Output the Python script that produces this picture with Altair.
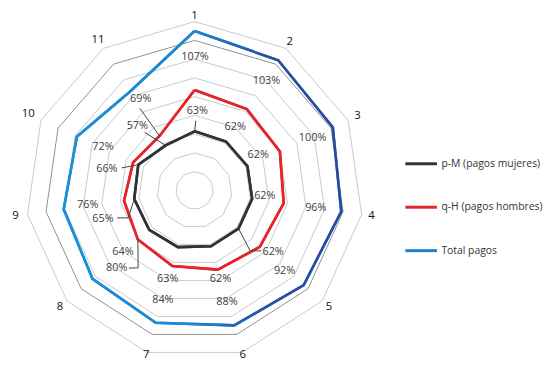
import math
import altair as alt
import pandas as pd

# ---------------- data ----------------
categories = [str(i) for i in range(1, 12)]
pm_values = [63, 62, 62, 62, 62, 62, 63, 64, 65, 66, 57]          # p-M (pagos mujeres), %
qh_values = [107, 103, 100, 96, 92, 88, 84, 80, 76, 72, 69]       # q-H (pagos hombres), %
total_values = [170, 165, 162, 158, 154, 150, 147, 144, 141, 138, 126]  # Total pagos, %
series_names = ["p-M (pagos mujeres)", "q-H (pagos hombres)", "Total pagos"]
ring_levels = [20, 40, 60, 80, 100, 120, 140, 160, 180]

# ---------------- layout (label placement, polar: radius in %, angle in deg) ----------------
pm_label_r = [84.8, 80.5, 77.5, 75.1, 106.3, 98.9, 99.2, 100.6, 102.5, 96.2, 92.1]
pm_label_a = [2.0, 32.6, 61.2, 94.2, 128.0, 163.8, 196.8, 229.4, 252.4, 283.6, 318.5]
qh_label_r = [142.6, 139.3, 137.8, 130.6, 128.5, 124.4, 121.2, 117.1, 114.9, 108.0, 112.7]
qh_label_a = [0.2, 33.4, 65.9, 98.2, 131.7, 163.9, 196.2, 225.1, 262.4, 295.3, 329.4]
cat_label_r = [186.0, 187.5, 191.0, 190.5, 189.5, 182.5, 182.5, 190.0, 193.0, 195.0, 190.5]
# leader lines: (series, axis index, list of polar points near the label)
leaders = [
    ("pm", 0, [(74.2, 1.0)]),
    ("pm", 4, [(95.9, 132.2), (87.5, 137.4)]),
    ("pm", 8, [(87.7, 250.5), (76.6, 247.5)]),
    ("pm", 9, [(81.3, 287.2)]),
    ("pm", 10, [(81.6, 319.3)]),
    ("qh", 7, [(108.5, 220.2), (102.2, 216.1)]),
    ("qh", 10, [(105.3, 326.3)]),
]

N = len(categories)


def axis_angle(i):
    return i * 360.0 / N


def polar(r, deg):
    a = math.radians(deg)
    return r * math.sin(a), r * math.cos(a)


# rings
ring_rows = []
for lv in ring_levels:
    for k in range(N + 1):
        x, y = polar(lv, axis_angle(k % N))
        ring_rows.append({"level": lv, "idx": k, "x": x, "y": y,
                          "col": "#8f8f8f" if lv == 160 else "#c9c9c9"})
ring_df = pd.DataFrame(ring_rows)

# series
ser_rows = []
for name, vals in zip(series_names, [pm_values, qh_values, total_values]):
    for k in range(N + 1):
        v = vals[k % N]
        x, y = polar(v, axis_angle(k % N))
        ser_rows.append({"series": name, "idx": k, "x": x, "y": y})
ser_df = pd.DataFrame(ser_rows)

# data labels
lab_rows = []
for i in range(N):
    x, y = polar(pm_label_r[i], pm_label_a[i])
    lab_rows.append({"text": f"{pm_values[i]}%", "x": x, "y": y})
    x, y = polar(qh_label_r[i], qh_label_a[i])
    lab_rows.append({"text": f"{qh_values[i]}%", "x": x, "y": y})
lab_df = pd.DataFrame(lab_rows)

# category labels
cat_rows = []
for i, c in enumerate(categories):
    x, y = polar(cat_label_r[i], axis_angle(i))
    cat_rows.append({"text": c, "x": x, "y": y})
cat_df = pd.DataFrame(cat_rows)

# leader lines
lead_rows = []
for j, (s, i, pts) in enumerate(leaders):
    vals = pm_values if s == "pm" else qh_values
    allpts = list(pts) + [(vals[i], axis_angle(i))]
    for k, (r, a) in enumerate(allpts):
        x, y = polar(r, a)
        lead_rows.append({"lid": j, "idx": k, "x": x, "y": y})
lead_df = pd.DataFrame(lead_rows)

# ---------------- chart ----------------
X = alt.X("x:Q", scale=alt.Scale(domain=[-198.95, 377.9], nice=False, zero=False), axis=None)
Y = alt.Y("y:Q", scale=alt.Scale(domain=[-181.6, 192.1], nice=False, zero=False), axis=None)

rings = alt.Chart(ring_df).mark_line(strokeWidth=1).encode(
    x=X, y=Y, detail="level:N", order="idx:Q", stroke=alt.Stroke("col:N", scale=None)
)

colors = ["#333333", "#e4262b", "#1f7fc9"]
base_series = alt.Chart(ser_df).mark_line(strokeWidth=2.6).encode(
    x=X, y=Y, order="idx:Q", detail="series:N",
    color=alt.Color(
        "series:N",
        scale=alt.Scale(domain=series_names, range=colors),
        legend=alt.Legend(
            title=None, orient="none", legendX=401, legendY=138,
            symbolType="stroke", symbolSize=1024, symbolStrokeWidth=3,
            labelFont="Open Sans", labelFontSize=10.5, labelColor="#333333",
            labelOffset=3, rowPadding=20, padding=0,
        ),
    ),
)

grad = alt.LinearGradient(
    gradient="linear",
    stops=[
        alt.GradientStop(color="#1a90d8", offset=0),
        alt.GradientStop(color="#1c88d0", offset=0.47),
        alt.GradientStop(color="#2b4f9f", offset=0.74),
        alt.GradientStop(color="#2a4a9a", offset=1),
    ],
    x1=0, x2=1, y1=0, y2=0,
)
total_line = alt.Chart(ser_df).transform_filter(
    alt.datum.series == series_names[2]
).mark_line(strokeWidth=2.6, color=grad).encode(x=X, y=Y, order="idx:Q")

red_line = alt.Chart(ser_df).transform_filter(
    alt.datum.series == series_names[1]
).mark_line(strokeWidth=2.6, color="#e4262b").encode(x=X, y=Y, order="idx:Q")

black_line = alt.Chart(ser_df).transform_filter(
    alt.datum.series == series_names[0]
).mark_line(strokeWidth=2.6, color="#333333").encode(x=X, y=Y, order="idx:Q")

leader_lines = alt.Chart(lead_df).mark_line(strokeWidth=1, color="#404040").encode(
    x=X, y=Y, detail="lid:N", order="idx:Q"
)

labels = alt.Chart(lab_df).mark_text(font="Open Sans", fontSize=11, color="#404040").encode(
    x=X, y=Y, text="text:N"
)

cat_labels = alt.Chart(cat_df).mark_text(font="Open Sans", fontSize=11.5, color="#111111").encode(
    x=X, y=Y, text="text:N"
)

chart = alt.layer(
    rings, base_series, total_line, red_line, black_line, leader_lines, labels, cat_labels
).properties(
    width=548, height=355, padding=0,
    autosize=alt.AutoSizeParams(type="none"),
).configure_view(stroke=None)

chart.save("out.html", embed_options={"renderer": "svg", "actions": False})
